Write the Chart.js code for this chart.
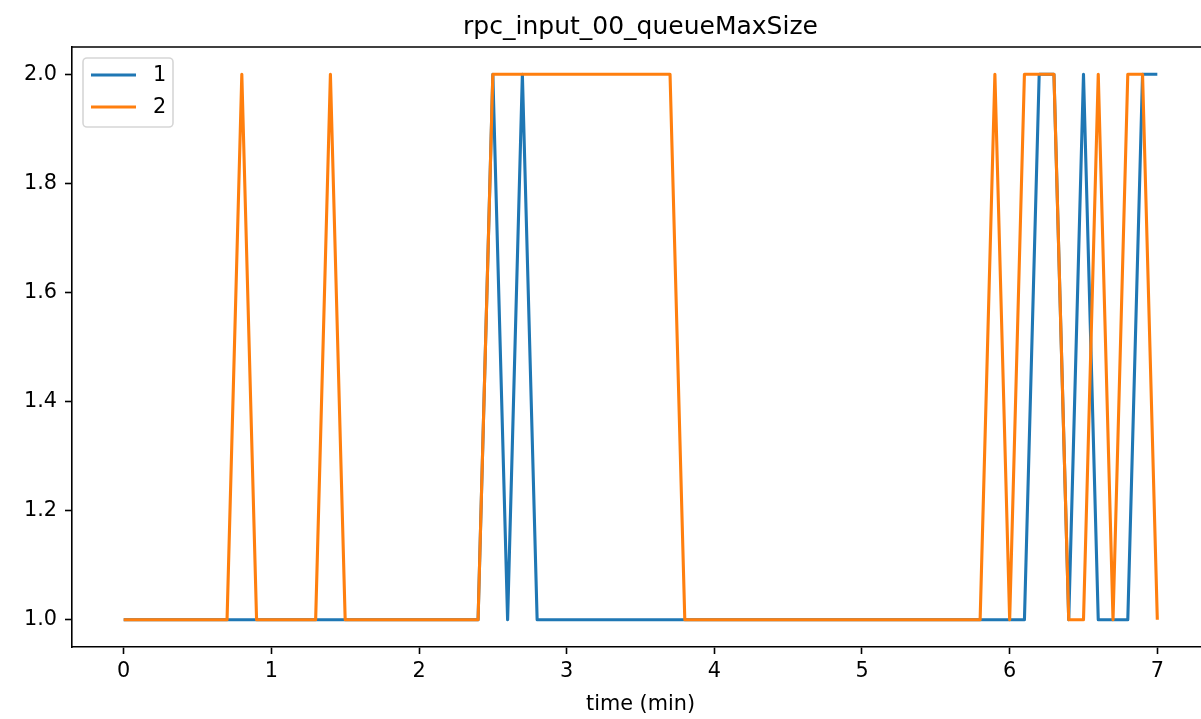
<!DOCTYPE html>
<html>
<head>
<meta charset="utf-8">
<script src="https://cdn.jsdelivr.net/npm/chart.js@4"></script>
<style>
  html, body { margin: 0; padding: 0; background: #fff; overflow: hidden; }
  canvas { display: block; }
</style>
</head>
<body>
<canvas id="chart" width="1230" height="719"></canvas>
<script>
const chartTitle = "rpc_input_00_queueMaxSize";
const xLabel = "time (min)";
const seriesNames = ["1", "2"];

const times = [
  0.0, 0.1, 0.2, 0.3, 0.4, 0.5, 0.6, 0.7, 0.8, 0.9,
  1.0, 1.1, 1.2, 1.3, 1.4, 1.5, 1.6, 1.7, 1.8, 1.9,
  2.0, 2.1, 2.2, 2.3, 2.4, 2.5, 2.6, 2.7, 2.8, 2.9,
  3.0, 3.1, 3.2, 3.3, 3.4, 3.5, 3.6, 3.7, 3.8, 3.9,
  4.0, 4.1, 4.2, 4.3, 4.4, 4.5, 4.6, 4.7, 4.8, 4.9,
  5.0, 5.1, 5.2, 5.3, 5.4, 5.5, 5.6, 5.7, 5.8, 5.9,
  6.0, 6.1, 6.2, 6.3, 6.4, 6.5, 6.6, 6.7, 6.8, 6.9,
  7.0
];

const queue1 = [
  1, 1, 1, 1, 1, 1, 1, 1, 1, 1,
  1, 1, 1, 1, 1, 1, 1, 1, 1, 1,
  1, 1, 1, 1, 1, 2, 1, 2, 1, 1,
  1, 1, 1, 1, 1, 1, 1, 1, 1, 1,
  1, 1, 1, 1, 1, 1, 1, 1, 1, 1,
  1, 1, 1, 1, 1, 1, 1, 1, 1, 1,
  1, 1, 2, 2, 1, 2, 1, 1, 1, 2,
  2
];

const queue2 = [
  1, 1, 1, 1, 1, 1, 1, 1, 2, 1,
  1, 1, 1, 1, 2, 1, 1, 1, 1, 1,
  1, 1, 1, 1, 1, 2, 2, 2, 2, 2,
  2, 2, 2, 2, 2, 2, 2, 2, 1, 1,
  1, 1, 1, 1, 1, 1, 1, 1, 1, 1,
  1, 1, 1, 1, 1, 1, 1, 1, 1, 2,
  1, 2, 2, 2, 1, 1, 2, 1, 2, 2,
  1
];

const xTicks = [0, 1, 2, 3, 4, 5, 6, 7];
const yTicks = [1.0, 1.2, 1.4, 1.6, 1.8, 2.0];

const colors = ["#1f77b4", "#ff7f0e"];
const FONT = "DejaVu Sans";

function toPoints(xs, ys) {
  return xs.map((x, i) => ({ x: x, y: ys[i] }));
}

// matplotlib-style title, top spine and legend box
const mplDecor = {
  id: "mplDecor",
  afterDraw(chart) {
    const ctx = chart.ctx;
    const a = chart.chartArea;
    ctx.save();

    ctx.strokeStyle = "#000";
    ctx.lineWidth = 1.6;
    ctx.beginPath();
    ctx.moveTo(a.left, a.top);
    ctx.lineTo(a.right, a.top);
    ctx.stroke();

    ctx.fillStyle = "#000";
    ctx.font = "25px '" + FONT + "'";
    ctx.textAlign = "center";
    ctx.textBaseline = "alphabetic";
    ctx.fillText(chartTitle, (a.left + a.right) / 2, a.top - 13);

    const bx = a.left + 11, by = a.top + 11, bw = 90, bh = 69, r = 4;
    ctx.beginPath();
    ctx.roundRect(bx, by, bw, bh, r);
    ctx.fillStyle = "rgba(255,255,255,0.8)";
    ctx.fill();
    ctx.strokeStyle = "#d6d6d6";
    ctx.lineWidth = 1.6;
    ctx.stroke();

    ctx.font = "20.8px '" + FONT + "'";
    ctx.textAlign = "left";
    ctx.textBaseline = "middle";
    seriesNames.forEach((name, i) => {
      const y = by + 17 + i * 32;
      ctx.strokeStyle = colors[i];
      ctx.lineWidth = 3.1;
      ctx.lineCap = "butt";
      ctx.beginPath();
      ctx.moveTo(bx + 8, y);
      ctx.lineTo(bx + 53, y);
      ctx.stroke();
      ctx.fillStyle = "#000";
      ctx.fillText(name, bx + 70, y + 1);
    });
    ctx.restore();
  }
};

const ctx = document.getElementById("chart").getContext("2d");
new Chart(ctx, {
  type: "line",
  data: {
    datasets: [
      {
        label: seriesNames[0],
        data: toPoints(times, queue1),
        borderColor: colors[0],
        borderWidth: 3.1,
        borderJoinStyle: "round",
        pointRadius: 0,
        tension: 0,
        fill: false,
        order: 1
      },
      {
        label: seriesNames[1],
        data: toPoints(times, queue2),
        borderColor: colors[1],
        borderWidth: 3.1,
        borderJoinStyle: "round",
        pointRadius: 0,
        tension: 0,
        fill: false,
        order: 0
      }
    ]
  },
  options: {
    responsive: false,
    animation: false,
    devicePixelRatio: 1,
    layout: { padding: { left: 0, right: 21, top: 47, bottom: 0 } },
    plugins: {
      legend: { display: false },
      title: { display: false },
      tooltip: { enabled: false }
    },
    scales: {
      x: {
        type: "linear",
        min: -0.35,
        max: 7.35,
        afterBuildTicks: s => { s.ticks = xTicks.map(v => ({ value: v })); },
        afterFit: s => { s.height = 72; },
        border: { display: true, color: "#000", width: 1.6 },
        grid: {
          display: true,
          drawOnChartArea: false,
          drawTicks: true,
          tickLength: 7,
          tickWidth: 1.6,
          tickColor: "#000"
        },
        ticks: {
          color: "#000",
          padding: 5,
          maxRotation: 0,
          font: { family: FONT, size: 20.8 },
          callback: v => String(v)
        },
        title: {
          display: true,
          text: xLabel,
          color: "#000",
          padding: { top: 0, bottom: 2 },
          font: { family: FONT, size: 20.8 }
        }
      },
      y: {
        type: "linear",
        min: 0.95,
        max: 2.05,
        afterBuildTicks: s => { s.ticks = yTicks.map(v => ({ value: v })); },
        afterFit: s => { s.width = 72; },
        border: { display: true, color: "#000", width: 1.6 },
        grid: {
          display: true,
          drawOnChartArea: false,
          drawTicks: true,
          tickLength: 7,
          tickWidth: 1.6,
          tickColor: "#000"
        },
        ticks: {
          color: "#000",
          padding: 8,
          font: { family: FONT, size: 20.8 },
          callback: v => Number(v).toFixed(1)
        }
      }
    }
  },
  plugins: [mplDecor]
});
</script>
</body>
</html>
